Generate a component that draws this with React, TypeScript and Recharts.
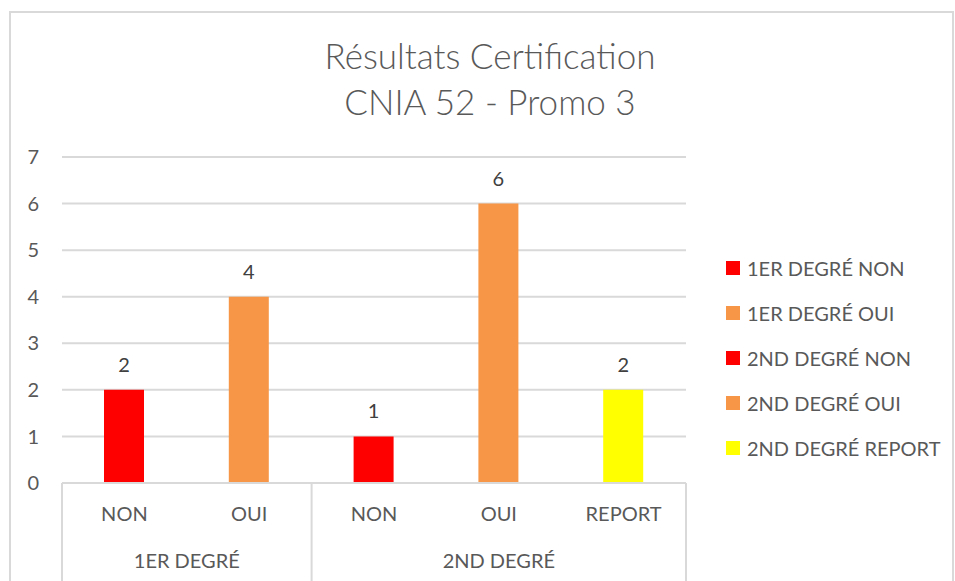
import React from 'react';
import { BarChart, Bar, XAxis, YAxis, CartesianGrid, Cell, LabelList } from 'recharts';

const categories = ['NON', 'OUI', 'NON', 'OUI', 'REPORT'];
const groups = ['1ER DEGRÉ', '1ER DEGRÉ', '2ND DEGRÉ', '2ND DEGRÉ', '2ND DEGRÉ'];
const values = [2, 4, 1, 6, 2];
const colors = ['#FF0000', '#F79646', '#FF0000', '#F79646', '#FFFF00'];
const yTicks = [0, 1, 2, 3, 4, 5, 6, 7];
const titleLines = ['Résultats Certification', 'CNIA 52 - Promo 3'];

const W = 955;
const H = 581;
const PLOT_LEFT = 62;
const PLOT_RIGHT = 686;
const PLOT_TOP = 157;
const PLOT_BOTTOM = 483;
const BAND = (PLOT_RIGHT - PLOT_LEFT) / categories.length;
const FONT = 'Lato, "Open Sans", sans-serif';
const TEXT = '#595959';
const GRID = '#d9d9d9';

const chartData = categories.map((c, i) => ({ id: i, sub: c, group: groups[i], value: values[i] }));

const AxisTick = (props: any) => {
  const { x, index } = props;
  const isFirst = index === 0 || groups[index - 1] !== groups[index];
  const isLast = index === categories.length - 1;
  let start = index;
  while (start > 0 && groups[start - 1] === groups[index]) start--;
  let end = index;
  while (end < groups.length - 1 && groups[end + 1] === groups[index]) end++;
  const groupX = x + ((start + end) / 2 - index) * BAND;
  return (
    <g>
      <text x={x} y={PLOT_BOTTOM + 38} textAnchor="middle" fill={TEXT} fontSize={20} fontFamily={FONT}>
        {categories[index]}
      </text>
      {isFirst && (
        <>
          <line x1={x - BAND / 2} x2={x - BAND / 2} y1={PLOT_BOTTOM} y2={H} stroke={GRID} strokeWidth={2} />
          <text x={groupX} y={PLOT_BOTTOM + 85} textAnchor="middle" fill={TEXT} fontSize={20} fontFamily={FONT}>
            {groups[index]}
          </text>
        </>
      )}
      {isLast && <line x1={x + BAND / 2} x2={x + BAND / 2} y1={PLOT_BOTTOM} y2={H} stroke={GRID} strokeWidth={2} />}
    </g>
  );
};

const App = () => {
  return (
    <div style={{ position: 'absolute', left: 0, top: 0, width: W, height: H, overflow: 'hidden', background: '#fff', fontFamily: FONT }}>
      <div style={{ position: 'absolute', left: 9, top: 11, width: 941, height: 640, border: `2px solid ${GRID}` }} />
      <div style={{ position: 'absolute', left: 240, width: 500, top: 32, textAlign: 'center', color: TEXT, fontSize: 35, fontWeight: 300, lineHeight: '46px' }}>
        {titleLines.map(t => <div key={t}>{t}</div>)}
      </div>
      <div style={{ position: 'absolute', left: 0, top: 0 }}>
        <BarChart width={W} height={H} data={chartData} margin={{ top: PLOT_TOP, right: W - PLOT_RIGHT, bottom: 0, left: 22 }}>
          <CartesianGrid vertical={false} stroke={GRID} strokeWidth={2} />
          <XAxis dataKey="id" height={H - PLOT_BOTTOM} tickLine={false} axisLine={{ stroke: GRID, strokeWidth: 2 }} tick={<AxisTick />} interval={0} />
          <YAxis width={40} domain={[0, 7]} ticks={yTicks} tickLine={false} axisLine={false} tickMargin={17}
            tick={{ fill: TEXT, fontSize: 20, fontFamily: FONT }} />
          <Bar dataKey="value" barSize={40} isAnimationActive={false}>
            {chartData.map((d, i) => <Cell key={i} fill={colors[i]} />)}
            <LabelList dataKey="value" position="top" offset={18} fill="#404040" fontSize={20} fontFamily={FONT} />
          </Bar>
        </BarChart>
      </div>
      <div style={{ position: 'absolute', left: 726, top: 246 }}>
        {categories.map((c, i) => (
          <div key={i} style={{ display: 'flex', alignItems: 'center', height: 44.8, color: TEXT, fontSize: 20 }}>
            <span style={{ width: 14, height: 14, background: colors[i], marginRight: 7, display: 'inline-block' }} />
            {groups[i]} {c}
          </div>
        ))}
      </div>
    </div>
  );
};

export default App;
